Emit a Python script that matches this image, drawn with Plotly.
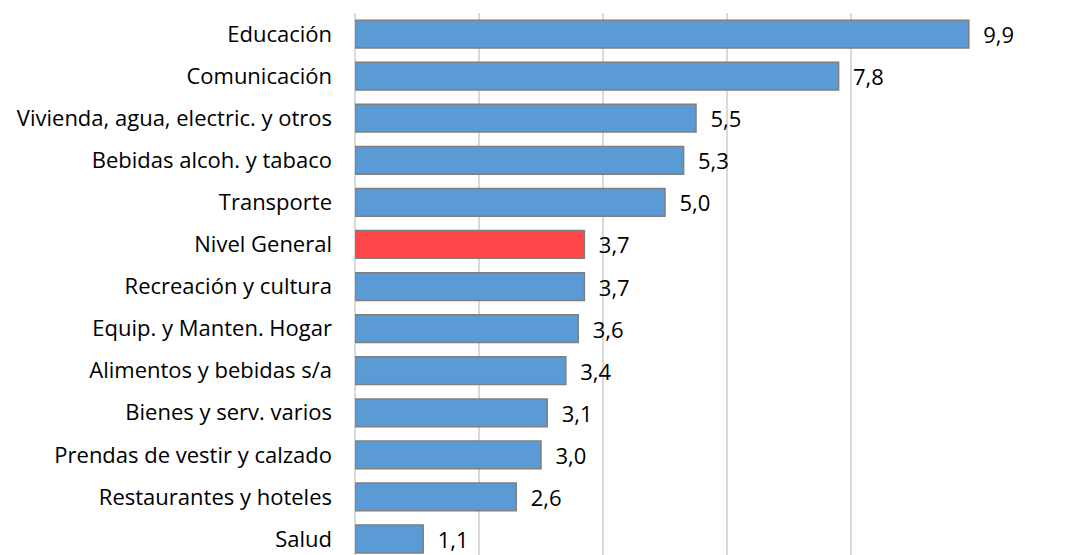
import plotly.graph_objects as go

categories = ["Educación", "Comunicación", "Vivienda, agua, electric. y otros",
              "Bebidas alcoh. y tabaco", "Transporte", "Nivel General",
              "Recreación y cultura", "Equip. y Manten. Hogar",
              "Alimentos y bebidas s/a", "Bienes y serv. varios",
              "Prendas de vestir y calzado", "Restaurantes y hoteles", "Salud"]
values = [9.9, 7.8, 5.5, 5.3, 5.0, 3.7, 3.7, 3.6, 3.4, 3.1, 3.0, 2.6, 1.1]
highlight = "Nivel General"

colors = ["#FF474A" if c == highlight else "#5B9BD5" for c in categories]
FONT = "Open Sans, Roboto, Liberation Sans, Arial"

fig = go.Figure(go.Bar(
    x=values, y=categories, orientation="h",
    marker=dict(color=colors, line=dict(color="#7F7F7F", width=1.5)),
    text=["  " + f"{v:.1f}".replace(".", ",") for v in values],
    textposition="outside", cliponaxis=False, constraintext="none",
    textfont=dict(size=22, color="#000000", family=FONT),
    width=0.66,
))

fig.update_layout(
    width=1081, height=547,
    margin=dict(l=347, r=114, t=5, b=0),
    plot_bgcolor="white", paper_bgcolor="white",
    showlegend=False,
    font=dict(family=FONT, size=22, color="#000000"),
    xaxis=dict(range=[0, 10], dtick=2, showticklabels=False, showgrid=True,
               gridcolor="#D9D9D9", gridwidth=1.5, zeroline=True,
               zerolinecolor="#D9D9D9", zerolinewidth=1.5, showline=False),
    yaxis=dict(range=[12.38, -0.5], showgrid=False, ticks="",
               ticklabelstandoff=22, tickfont=dict(size=22, family=FONT)),
)

fig.write_html("out.html")
